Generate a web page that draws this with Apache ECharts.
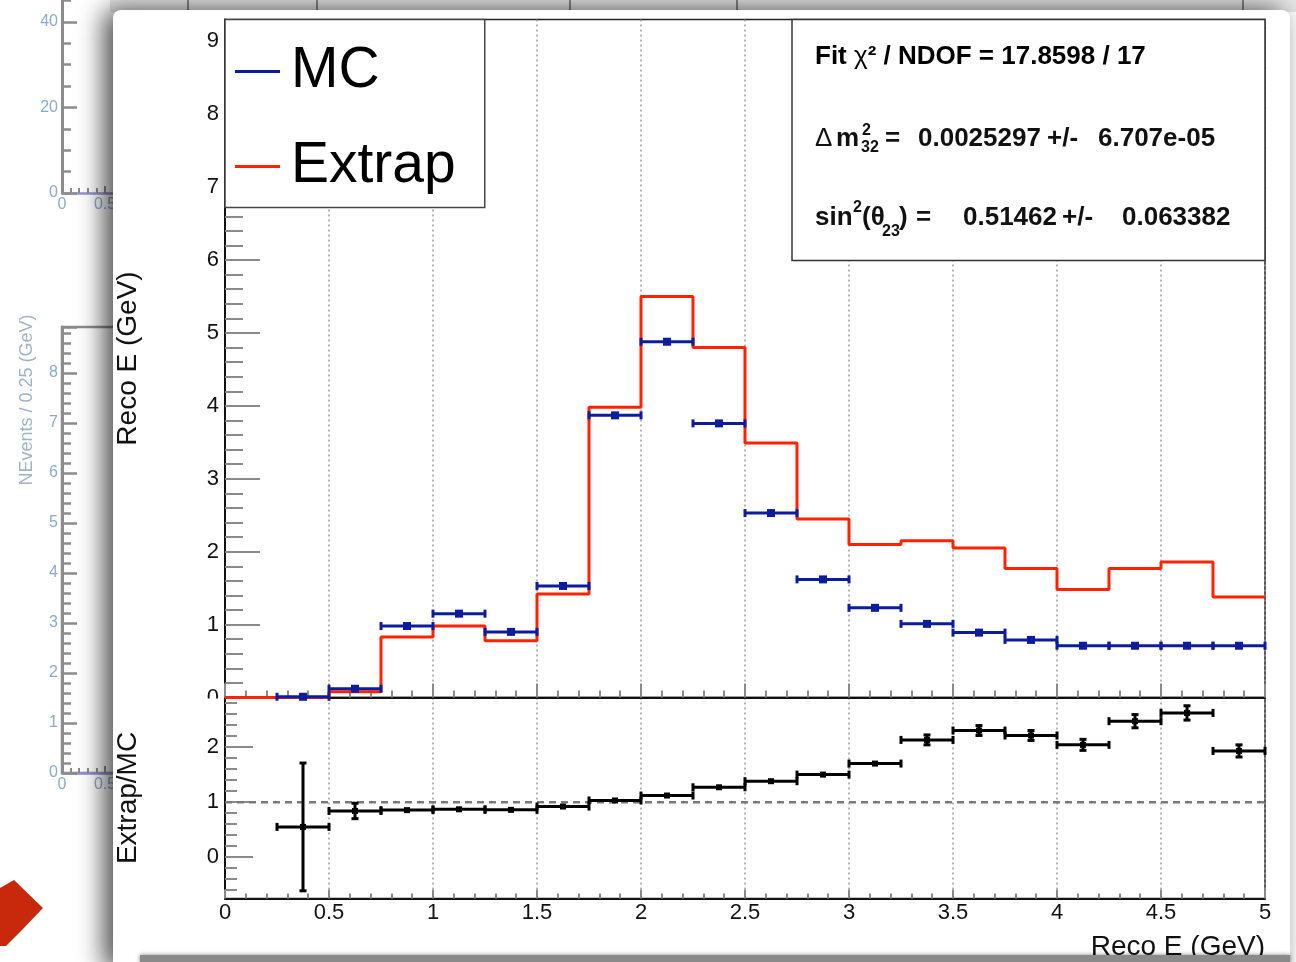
<!DOCTYPE html>
<html>
<head>
<meta charset="utf-8">
<script src="https://cdn.jsdelivr.net/npm/echarts@6/dist/echarts.min.js"></script>
<style>
  html, body { margin: 0; padding: 0; background: #ffffff; }
  #chart { width: 1296px; height: 962px; }
</style>
</head>
<body>
<div id="chart"></div>
<script>
// Reconstructed energy binning (GeV)
const binEdges = [0, 0.25, 0.5, 0.75, 1, 1.25, 1.5, 1.75, 2, 2.25, 2.5,
                  2.75, 3, 3.25, 3.5, 3.75, 4, 4.25, 4.5, 4.75, 5];

// MC prediction per bin, with statistical errors
const mcValues = [null, 0.01, 0.12, 0.98, 1.15, 0.90, 1.53, 3.87, 4.88, 3.76,
                  2.53, 1.62, 1.23, 1.01, 0.89, 0.79, 0.71, 0.71, 0.71, 0.71];
const mcErrors = [0, 0.01, 0.02, 0.03, 0.03, 0.02, 0.02, 0.02, 0.03, 0.03,
                  0.02, 0.02, 0.02, 0.02, 0.02, 0.02, 0.02, 0.02, 0.02, 0.02];

// Extrapolated spectrum per bin
const extrapValues = [0, 0, 0.08, 0.83, 0.98, 0.78, 1.42, 3.98, 5.50, 4.80,
                      3.49, 2.45, 2.10, 2.15, 2.05, 1.77, 1.48, 1.77, 1.86, 1.38];

// Extrap / MC ratio per bin, with errors
const ratioValues = [null, 0.55, 0.84, 0.855, 0.87, 0.86, 0.92, 1.03, 1.12, 1.27,
                     1.38, 1.50, 1.70, 2.13, 2.30, 2.21, 2.04, 2.47, 2.62, 1.93];
const ratioErrors = [0, 1.16, 0.14, 0.03, 0.03, 0.02, 0.02, 0.02, 0.02, 0.02,
                     0.02, 0.03, 0.03, 0.09, 0.09, 0.09, 0.10, 0.12, 0.13, 0.11];
const ratioReference = 1;

// Oscillation fit summary
const fitChi2 = '17.8598';
const fitNdof = '17';
const dm32Value = '0.0025297';
const dm32Error = '6.707e-05';
const sinValue = '0.51462';
const sinError = '0.063382';

const FONT = '"Liberation Sans", Arial, Helvetica, sans-serif';
const BLUE = '#0c1c9c';
const RED = '#ff2200';
const TICK = '#8a8a8a';
const BACK_LABEL = '#8aaacb';

// one [low, high, value, error] row per filled bin
function binRows(values, errors) {
  const rows = [];
  values.forEach((v, i) => {
    if (v !== null) rows.push([binEdges[i], binEdges[i + 1], v, errors[i]]);
  });
  return rows;
}

// histogram drawn as ROOT-style error bars: bin-width bar, end caps, marker, vertical error
function errorBars(color, lineW, markerSize, capHalf) {
  return function (params, api) {
    const lo = api.value(0), hi = api.value(1), v = api.value(2), e = api.value(3);
    const mid = (lo + hi) / 2;
    const L = api.coord([lo, v]), R = api.coord([hi, v]);
    const T = api.coord([mid, v + e]), B = api.coord([mid, v - e]), C = api.coord([mid, v]);
    const seg = (x1, y1, x2, y2) => ({
      type: 'line', shape: { x1, y1, x2, y2 },
      style: { stroke: color, lineWidth: lineW, lineCap: 'butt' }
    });
    const kids = [
      seg(L[0], L[1], R[0], R[1]),
      seg(L[0], L[1] - capHalf, L[0], L[1] + capHalf),
      seg(R[0], R[1] - capHalf, R[0], R[1] + capHalf)
    ];
    if (B[1] - T[1] > markerSize) {
      kids.push(seg(T[0], T[1], B[0], B[1]));
      kids.push(seg(T[0] - 3.5, T[1], T[0] + 3.5, T[1]));
      kids.push(seg(B[0] - 3.5, B[1], B[0] + 3.5, B[1]));
    }
    kids.push({
      type: 'rect',
      shape: { x: C[0] - markerSize / 2, y: C[1] - markerSize / 2, width: markerSize, height: markerSize },
      style: { fill: color }
    });
    return { type: 'group', children: kids };
  };
}

const extrapStep = binEdges.map((e, i) => [e, extrapValues[Math.min(i, extrapValues.length - 1)]]);
// unit ratio across the full energy range
const unityLine = [[binEdges[0], ratioReference], [binEdges[binEdges.length - 1], ratioReference]];

const isInt = v => Math.abs(v - Math.round(v)) < 1e-6;

const frontAxisLine = { show: true, onZero: false, lineStyle: { color: '#111', width: 2 } };
const dottedGrid = { show: true, lineStyle: { color: '#9a9a9a', width: 1.5, type: [2, 3] } };
const tickLabel = { fontSize: 22, fontFamily: FONT, color: '#111' };

function backYAxis(gridIndex, max, interval, minorSplit) {
  return {
    gridIndex, type: 'value', min: 0, max, interval, zlevel: 0,
    axisLine: { show: true, lineStyle: { color: '#8c8c8c', width: 3 } },
    axisTick: { show: true, inside: true, length: 15, lineStyle: { color: '#8c8c8c', width: 2.5 } },
    minorTick: { show: true, splitNumber: minorSplit, length: 9, lineStyle: { color: '#8c8c8c', width: 2.5 } },
    axisLabel: { show: true, margin: 4, fontSize: 16, fontFamily: FONT, color: BACK_LABEL,
                 formatter: v => (Math.abs(v / interval - Math.round(v / interval)) < 1e-6 ? String(Math.round(v)) : '') },
    splitLine: { show: false }
  };
}
function backXAxis(gridIndex) {
  return {
    gridIndex, type: 'value', min: 0, max: 5, interval: 0.5, zlevel: 0,
    axisLine: { show: true, onZero: false, lineStyle: { color: '#9494d4', width: 2.5 } },
    axisTick: { show: true, inside: true, length: 7, lineStyle: { color: '#8c8c8c', width: 2 } },
    minorTick: { show: true, splitNumber: 5, length: 5, lineStyle: { color: '#8c8c8c', width: 2 } },
    axisLabel: { show: true, margin: 4, fontSize: 16, fontFamily: FONT, color: BACK_LABEL },
    splitLine: { show: false }
  };
}

function label(x, y, text, size, weight, extra) {
  return Object.assign({
    type: 'text', x, y, zlevel: 2, z: 40,
    style: { text, fontSize: size, fontFamily: FONT, fontWeight: weight, fill: '#111',
             verticalAlign: 'middle', align: 'left' }
  }, extra || {});
}

const chart = echarts.init(document.getElementById('chart'), null, { renderer: 'canvas' });

const option = {
  animation: false,
  backgroundColor: '#ffffff',
  grid: [
    // upper pad: spectra
    { left: 225, top: 19.5, width: 1040, height: 678, show: true, backgroundColor: '#fff',
      borderColor: '#222', borderWidth: 1.5, zlevel: 2, outerBoundsMode: 'none' },
    // lower pad: ratio
    { left: 225, top: 697.5, width: 1040, height: 201, show: true, backgroundColor: '#fff',
      borderColor: '#222', borderWidth: 1.5, zlevel: 2, outerBoundsMode: 'none' },
    // ratio axis fine ticks, -0.6 .. 2.8
    { left: 225, top: 703, width: 1040, height: 187, show: false, zlevel: 2, outerBoundsMode: 'none' },
    // ratio axis integer ticks, 0 .. 2
    { left: 225, top: 747, width: 1040, height: 110, show: false, zlevel: 2, outerBoundsMode: 'none' },
    // canvas underneath: first pad
    { left: 62, top: -20, width: 430, height: 213, show: false, zlevel: 0, outerBoundsMode: 'none' },
    // canvas underneath: second pad
    { left: 62, top: 327, width: 430, height: 446, show: true, backgroundColor: 'transparent',
      borderColor: '#8c8c8c', borderWidth: 2.5, zlevel: 0, outerBoundsMode: 'none' }
  ],
  xAxis: [
    { gridIndex: 0, type: 'value', min: 0, max: 5, interval: 0.5, zlevel: 2,
      axisLine: frontAxisLine,
      axisTick: { show: true, inside: true, length: 14, lineStyle: { color: TICK, width: 2 } },
      minorTick: { show: true, splitNumber: 5, length: 7, lineStyle: { color: TICK, width: 2 } },
      axisLabel: { show: false },
      splitLine: dottedGrid },
    { gridIndex: 1, type: 'value', min: 0, max: 5, interval: 0.5, zlevel: 2,
      axisLine: frontAxisLine,
      axisTick: { show: true, inside: true, length: 9, lineStyle: { color: TICK, width: 2 } },
      minorTick: { show: true, splitNumber: 5, length: 5, lineStyle: { color: TICK, width: 2 } },
      axisLabel: Object.assign({ show: true, margin: 3 }, tickLabel),
      splitLine: dottedGrid },
    { gridIndex: 2, type: 'value', min: 0, max: 5, show: false },
    { gridIndex: 3, type: 'value', min: 0, max: 5, show: false },
    backXAxis(4),
    backXAxis(5)
  ],
  yAxis: [
    { gridIndex: 0, type: 'value', min: 0, max: 9.3, interval: 1, zlevel: 2,
      axisLine: frontAxisLine,
      axisTick: { show: true, inside: true, length: 35, lineStyle: { color: TICK, width: 2 } },
      minorTick: { show: true, splitNumber: 5, length: 18, lineStyle: { color: TICK, width: 2 } },
      axisLabel: Object.assign({ show: true, margin: 6, formatter: v => (isInt(v) ? String(Math.round(v)) : '') }, tickLabel),
      splitLine: { show: false },
      name: 'Reco E (GeV)', nameLocation: 'middle', nameGap: 83, nameRotate: 90,
      nameTextStyle: { fontSize: 28, fontFamily: FONT, color: '#111' } },
    { gridIndex: 1, type: 'value', min: -0.75, max: 2.9, zlevel: 2,
      axisLine: frontAxisLine,
      axisTick: { show: false }, axisLabel: { show: false }, splitLine: { show: false },
      name: 'Extrap/MC', nameLocation: 'middle', nameGap: 83, nameRotate: 90,
      nameTextStyle: { fontSize: 28, fontFamily: FONT, color: '#111' } },
    { gridIndex: 2, type: 'value', min: -0.6, max: 2.8, interval: 0.2, zlevel: 2,
      axisLine: { show: false },
      axisTick: { show: true, inside: true, length: 12, lineStyle: { color: TICK, width: 2 } },
      axisLabel: { show: false }, splitLine: { show: false } },
    { gridIndex: 3, type: 'value', min: 0, max: 2, interval: 1, zlevel: 2,
      axisLine: { show: false },
      axisTick: { show: true, inside: true, length: 28, lineStyle: { color: TICK, width: 2 } },
      axisLabel: Object.assign({ show: true, margin: 6 }, tickLabel),
      splitLine: { show: false } },
    backYAxis(4, 49.8, 20, 4),
    backYAxis(5, 8.92, 1, 5)
  ],
  legend: {
    data: [{ name: 'MC', icon: 'rect' }, { name: 'Extrap', icon: 'rect' }],
    left: 225, top: 19.5, orient: 'vertical',
    padding: [17, 29, 6, 10], itemGap: 25, itemWidth: 45, itemHeight: 3,
    backgroundColor: '#ffffff', borderColor: '#444', borderWidth: 1.5, borderRadius: 0,
    selectedMode: false, zlevel: 2, z: 20,
    textStyle: { fontSize: 57, fontFamily: FONT, color: '#000', lineHeight: 70, padding: [0, 0, 0, 6] }
  },
  series: [
    { name: 'Extrap', type: 'line', xAxisIndex: 0, yAxisIndex: 0, step: 'end',
      data: extrapStep, symbol: 'none', color: RED, zlevel: 2, z: 3,
      lineStyle: { color: RED, width: 3 } },
    { name: 'MC', type: 'custom', xAxisIndex: 0, yAxisIndex: 0, zlevel: 2, z: 4,
      data: binRows(mcValues, mcErrors), encode: { x: [0, 1], y: [2] },
      itemStyle: { color: BLUE }, renderItem: errorBars(BLUE, 3, 8, 4) },
    { name: 'unity', type: 'line', xAxisIndex: 1, yAxisIndex: 1, zlevel: 2, z: 2,
      data: unityLine, symbol: 'none', silent: true,
      lineStyle: { color: '#7a7a7a', width: 2.5, type: [7, 5] } },
    { name: 'Extrap/MC', type: 'custom', xAxisIndex: 1, yAxisIndex: 1, zlevel: 2, z: 4,
      data: binRows(ratioValues, ratioErrors), encode: { x: [0, 1], y: [2] },
      itemStyle: { color: '#000' }, renderItem: errorBars('#000', 3, 6, 4) }
  ],
  graphic: [
    // strip of the window behind, along the top
    { type: 'rect', zlevel: 0, z: 1, shape: { x: 110, y: 0, width: 1186, height: 12 },
      style: { fill: '#e6e6e6' } },
    ...[188, 317, 570, 737, 1243].map(x => ({
      type: 'line', zlevel: 0, z: 2, shape: { x1: x, y1: 0, x2: x, y2: 10 },
      style: { stroke: '#888', lineWidth: 2 } })),
    // axis title of the pad behind
    { type: 'text', zlevel: 0, z: 3, x: 27, y: 400, rotation: Math.PI / 2,
      style: { text: 'NEvents / 0.25 (GeV)', fontSize: 18, fontFamily: FONT, fill: '#9fb3c8',
               align: 'center', verticalAlign: 'middle' } },
    // red pen stroke in the corner
    { type: 'polygon', zlevel: 0, z: 3,
      shape: { points: [[0, 888], [14, 880], [43, 908], [22, 930], [6, 946], [0, 946]] },
      style: { fill: '#c8280c' } },
    // front window sheet with its drop shadow
    { type: 'rect', zlevel: 1, z: 1, shape: { x: 113, y: 10, width: 1177, height: 960, r: 8 },
      style: { fill: '#ffffff', shadowBlur: 26, shadowOffsetX: -9, shadowOffsetY: 0,
               shadowColor: 'rgba(0,0,0,0.7)' } },
    // lower pad hides the bottom of the upper pad's zero label
    { type: 'rect', zlevel: 2, z: 50, shape: { x: 192, y: 698.5, width: 31, height: 14 },
      style: { fill: '#ffffff' } },
    // fit summary box
    { type: 'rect', zlevel: 2, z: 30, shape: { x: 792, y: 19.5, width: 473, height: 241 },
      style: { fill: '#ffffff', stroke: '#333', lineWidth: 1.5 } },
    label(815, 57, '', 26, 'bold', {
      style: { text: '{b|Fit }{g|χ}{b|² / NDOF = ' + fitChi2 + ' / ' + fitNdof + '}',
               verticalAlign: 'middle', align: 'left',
               rich: { b: { fontSize: 26, fontFamily: FONT, fontWeight: 'bold', color: '#111' },
                       g: { fontSize: 26, fontFamily: FONT, fontWeight: 'normal', color: '#111' } } } }),
    label(815, 139, 'Δ', 26, 'normal'),
    label(836, 139, 'm', 26, 'bold'),
    label(862, 131, '2', 16, 'bold'),
    label(861, 148, '32', 16, 'bold'),
    label(885, 139, '=', 26, 'bold'),
    label(918, 139, dm32Value, 26, 'bold'),
    label(1047, 139, '+/-', 26, 'bold'),
    label(1098, 139, dm32Error, 26, 'bold'),
    label(815, 218, 'sin', 26, 'bold'),
    label(853, 208, '2', 16, 'bold'),
    label(862, 218, '(θ', 26, 'bold'),
    label(882, 232, '23', 16, 'bold'),
    label(899, 218, ')', 26, 'bold'),
    label(916, 218, '=', 26, 'bold'),
    label(963, 218, sinValue, 26, 'bold'),
    label(1062, 218, '+/-', 26, 'bold'),
    label(1122, 218, sinError, 26, 'bold'),
    // x-axis title of the ratio pad
    label(1265, 947, 'Reco E (GeV)', 28, 'normal', {
      style: { text: 'Reco E (GeV)', fontSize: 28, fontFamily: FONT, fill: '#111',
               align: 'right', verticalAlign: 'middle' } }),
    // torn bottom edge of the sheet
    { type: 'rect', zlevel: 3, z: 1, shape: { x: 140, y: 955, width: 1150, height: 8 },
      style: { fill: '#8a8a8a', shadowBlur: 4, shadowColor: 'rgba(0,0,0,0.5)' } }
  ]
};

chart.setOption(option);
</script>
</body>
</html>
